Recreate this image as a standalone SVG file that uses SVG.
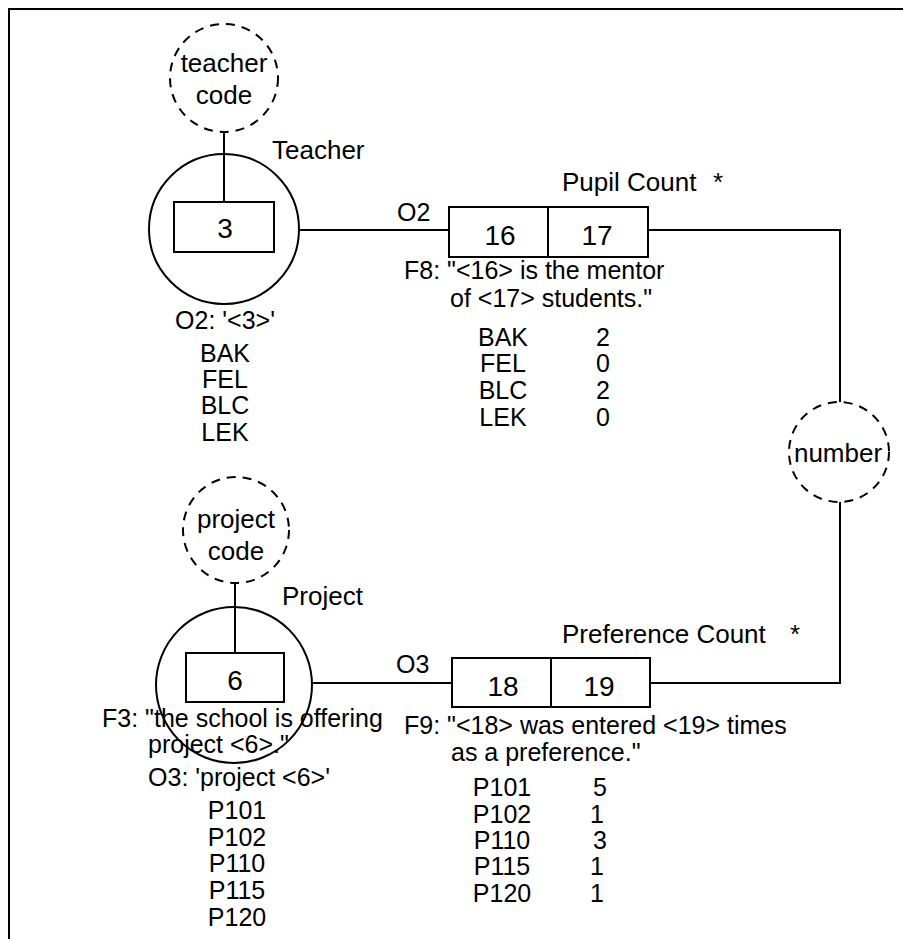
<svg xmlns="http://www.w3.org/2000/svg" width="903" height="939" viewBox="0 0 903 939">
<style>
text{font-family:"Liberation Sans",Arial,sans-serif;font-size:25px;fill:#000}
.m{text-anchor:middle}
.k{font-size:28px}
.l{font-size:26px}
.s{fill:none;stroke:#000;stroke-width:2}
.d{fill:#fff;stroke:#000;stroke-width:2;stroke-dasharray:9 7}
.b{fill:#fff;stroke:#000;stroke-width:2}
</style>
<rect width="903" height="939" fill="#fff"/>
<path class="s" d="M9,939 V9 H903"/>
<g id="connectors">
<path class="s" d="M224,132 V202"/>
<path class="s" d="M235,583 V653"/>
<path class="s" d="M299,230 H449"/>
<path class="s" d="M648,230 H840 V402"/>
<path class="s" d="M840,502 V683 H650"/>
<path class="s" d="M312,683 H452"/>
<text x="397" y="221">O2</text>
<text x="396" y="673">O3</text>
</g>
<g id="teacher-code">
<circle class="d" cx="224" cy="78" r="54"/>
<text class="m l" x="224" y="72">teacher</text>
<text class="m l" x="224" y="104">code</text>
</g>
<g id="teacher">
<circle class="s" cx="224" cy="229" r="75"/>
<rect class="b" x="174" y="202" width="100" height="50"/>
<text class="m k" x="225" y="238">3</text>
<text class="l" x="272" y="159">Teacher</text>
<text class="m" x="225" y="329">O2: '&lt;3&gt;'</text>
<text class="m" x="225" y="362">BAK</text>
<text class="m" x="225" y="388">FEL</text>
<text class="m" x="225" y="414">BLC</text>
<text class="m" x="225" y="441">LEK</text>
</g>
<g id="pupil-count">
<rect class="b" x="449" y="207" width="199" height="50"/>
<path class="s" d="M548,207 V257"/>
<text class="m k" x="500" y="245">16</text>
<text class="m k" x="597" y="245">17</text>
<text class="l" x="562" y="191">Pupil Count</text>
<text class="l" x="713" y="191">*</text>
<text x="404" y="279">F8: "&lt;16&gt; is the mentor</text>
<text x="450" y="307">of &lt;17&gt; students."</text>
<text class="m" x="503" y="346">BAK</text>
<text class="m" x="503" y="372">FEL</text>
<text class="m" x="503" y="399">BLC</text>
<text class="m" x="503" y="426">LEK</text>
<text class="m" x="603" y="346">2</text>
<text class="m" x="603" y="372">0</text>
<text class="m" x="603" y="399">2</text>
<text class="m" x="603" y="426">0</text>
</g>
<g id="number">
<circle class="d" cx="839" cy="452" r="50"/>
<text class="m l" x="838" y="462">number</text>
</g>
<g id="project-code">
<circle class="d" cx="236" cy="530" r="53"/>
<text class="m l" x="236" y="528">project</text>
<text class="m l" x="236" y="560">code</text>
</g>
<g id="project">
<circle class="s" cx="234" cy="685" r="78"/>
<rect class="b" x="186" y="653" width="98" height="49"/>
<text class="m k" x="235" y="690">6</text>
<text class="l" x="282" y="605">Project</text>
<text x="102" y="727">F3: "the school is offering</text>
<text x="148" y="753">project &lt;6&gt;."</text>
<text class="m" x="239" y="786">O3: 'project &lt;6&gt;'</text>
<text class="m" x="237" y="819">P101</text>
<text class="m" x="237" y="846">P102</text>
<text class="m" x="237" y="872">P110</text>
<text class="m" x="237" y="899">P115</text>
<text class="m" x="237" y="926">P120</text>
</g>
<g id="preference-count">
<rect class="b" x="452" y="658" width="198" height="49"/>
<path class="s" d="M551,658 V707"/>
<text class="m k" x="503" y="696">18</text>
<text class="m k" x="599" y="696">19</text>
<text class="l" x="562" y="643">Preference Count</text>
<text class="l" x="790" y="643">*</text>
<text x="404" y="734">F9: "&lt;18&gt; was entered &lt;19&gt; times</text>
<text x="451" y="761">as a preference."</text>
<text class="m" x="502" y="796">P101</text>
<text class="m" x="502" y="823">P102</text>
<text class="m" x="502" y="849">P110</text>
<text class="m" x="502" y="875">P115</text>
<text class="m" x="502" y="902">P120</text>
<text class="m" x="600" y="796">5</text>
<text class="m" x="597" y="823">1</text>
<text class="m" x="600" y="849">3</text>
<text class="m" x="597" y="875">1</text>
<text class="m" x="597" y="902">1</text>
</g>
</svg>
